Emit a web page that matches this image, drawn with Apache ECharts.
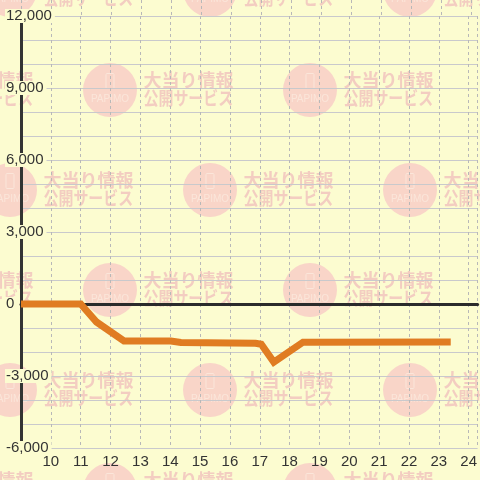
<!DOCTYPE html>
<html>
<head>
<meta charset="utf-8">
<script src="https://cdn.jsdelivr.net/npm/echarts@6/dist/echarts.min.js"></script>
<style>
html,body{margin:0;padding:0;background:#fcfcd0;}
#c{width:480px;height:480px;}
</style>
</head>
<body>
<div id="c"></div>
<script>
// Data (hour of day, cumulative balance)
const hours  = [9, 11, 11.53, 12.45, 14.02, 14.36, 16.86, 17.05, 17.47, 18.45, 23.4];
const values = [0, 0, -750, -1540, -1540, -1600, -1640, -1680, -2420, -1590, -1580];
const xTicks = [10,11,12,13,14,15,16,17,18,19,20,21,22,23,24];
const yTicks = [-6000,-3000,0,3000,6000,9000,12000];

const BG = '#fcfcd0';
const chart = echarts.init(document.getElementById('c'), null, {renderer:'canvas'});

// watermark decoration
const wm = [];
for (let r = 0; r < 6; r++) {
  const cy = -10 + 100 * r;
  const xs = (r % 2 === 0) ? [10, 210, 410] : [-90, 110, 310];
  xs.forEach(cx => {
    wm.push({type:'circle', z:-10, shape:{cx:cx, cy:cy, r:27}, style:{fill:'#f9d5c8'}, silent:true});
    wm.push({type:'rect', z:-9, shape:{x:cx-4, y:cy-16.5, width:8, height:15, r:1}, style:{fill:null, stroke:'#fbe6da', lineWidth:1}, silent:true});
    wm.push({type:'text', z:-9, x:cx, y:cy+9.5, style:{text:'PAPIMO', fill:'#fbe6da', font:'10px "Liberation Sans", Arial', align:'center', verticalAlign:'middle'}, silent:true});
    wm.push({type:'text', z:-9, x:cx+33.5, y:cy-9.5, style:{text:'大当り情報', fill:'#f3cdc1', font:'bold 18px "Noto Sans CJK JP"', align:'left', verticalAlign:'middle'}, silent:true});
    wm.push({type:'text', z:-9, x:cx+33.5, y:cy+8.5, scaleX:0.83, style:{text:'公開サービス', fill:'#f3cdc1', font:'bold 18px "Noto Sans CJK JP"', align:'left', verticalAlign:'middle'}, silent:true});
  });
}

const option = {
  backgroundColor: BG,
  animation: false,
  graphic: {elements: wm},
  grid: [
    {left:21, right:0, top:16, bottom:32, containLabel:false},
    {left:21, right:0, top:0, height:16, containLabel:false}
  ],
  xAxis: [
    {
      type:'value', gridIndex:0, min:9, max:24.3, interval:1,
      axisLine:{show:false, onZero:false}, axisTick:{show:false},
      axisLabel:{show:true, showMinLabel:false, showMaxLabel:false, margin:6,
        color:'#333', fontSize:15, fontFamily:'"Liberation Sans", Arial',
        formatter: v => xTicks.indexOf(v) >= 0 ? String(v) : ''},
      splitLine:{show:true, lineStyle:{color:'#b8b8b8', width:1, type:[3,3]}}
    },
    {
      type:'value', gridIndex:0, min:9, max:24.3, interval:1, position:'bottom',
      axisLine:{show:true, onZero:true, lineStyle:{color:'#2b2b2b', width:3}},
      axisTick:{show:false}, axisLabel:{show:false}, splitLine:{show:false}
    },
    {
      type:'value', gridIndex:1, min:9, max:24.3, interval:1,
      axisLine:{show:false}, axisTick:{show:false}, axisLabel:{show:false},
      splitLine:{show:true, lineStyle:{color:'#b8b8b8', width:1, type:[3,3]}}
    }
  ],
  yAxis: [
    {
      type:'value', gridIndex:0, min:-6000, max:12000, interval:3000,
      axisLine:{show:true, onZero:false, lineStyle:{color:'#333', width:3}},
      axisTick:{show:false},
      axisLabel:{show:true, margin:16, align:'left', color:'#333', fontSize:15,
        fontFamily:'"Liberation Sans", Arial', backgroundColor:BG,
        lineHeight:14, padding:[0,3,0,1],
        formatter: v => yTicks.indexOf(v) >= 0 ? v.toLocaleString('en-US') : ''},
      splitLine:{show:true, lineStyle:{color:'#c9c9cc', width:1}},
      minorTick:{show:false, splitNumber:3},
      minorSplitLine:{show:true, lineStyle:{color:'#c9c9cc', width:1}}
    },
    {type:'value', gridIndex:1, min:0, max:1, show:false, splitLine:{show:false}}
  ],
  series: [{
    type:'line',
    xAxisIndex:0, yAxisIndex:0,
    data: hours.map((h, i) => [h, values[i]]),
    showSymbol:false, symbol:'none',
    lineStyle:{color:'#e07c22', width:7, cap:'butt', join:'miter'},
    z:5, silent:true
  }]
};
chart.setOption(option);
</script>
</body>
</html>
